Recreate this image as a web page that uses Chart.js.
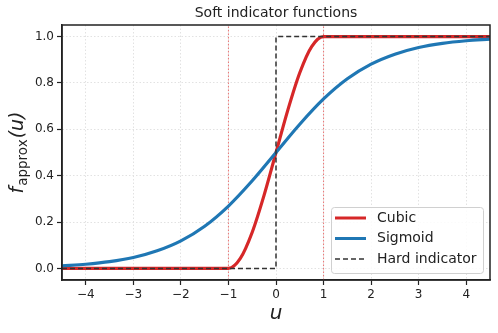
<!DOCTYPE html>
<html lang="en">
<head>
  <meta charset="UTF-8" />
  <title>Soft indicator functions</title>
  <script src="https://cdn.jsdelivr.net/npm/chart.js"></script>
  <style>
    body { margin: 0; padding: 0; background: #fff; }
    canvas { display: block; }
  </style>
</head>
<body>
  <canvas id="softChart" width="498" height="333"></canvas>

  <script>
    // values
    const sigmoidU = [-4.5, -4, -3.5, -3, -2.5, -2, -1.5, -1, -0.5, 0, 0.5, 1, 1.5, 2, 2.5, 3, 3.5, 4, 4.5];
    const sigmoidF = [0.011, 0.018, 0.029, 0.047, 0.076, 0.119, 0.182, 0.269, 0.378, 0.5, 0.622, 0.731, 0.818, 0.881, 0.924, 0.953, 0.971, 0.982, 0.989];

    const cubicU = [-4.5, -1, -0.75, -0.5, -0.25, 0, 0.25, 0.5, 0.75, 1, 4.5];
    const cubicF = [0, 0, 0.043, 0.156, 0.316, 0.5, 0.684, 0.844, 0.957, 1, 1];

    const hardU = [-4.5, 0, 0, 4.5];
    const hardF = [0, 0, 1, 1];

    const markerU = [-1, 1];
    const xTicks = [-4, -3, -2, -1, 0, 1, 2, 3, 4];
    const yTicks = [0, 0.2, 0.4, 0.6, 0.8, 1.0];
    const xRange = [-4.5, 4.5];
    const yRange = [-0.05, 1.05];

    const pts = (xs, ys) => xs.map((x, i) => ({ x: x, y: ys[i] }));
    const minus = v => (v < 0 ? '\u2212' + Math.abs(v) : String(v));

    const markerSets = markerU.map(u => ({
      label: 'marker',
      data: [{ x: u, y: yRange[0] }, { x: u, y: yRange[1] }],
      borderColor: 'rgba(228, 80, 80, 0.8)',
      borderWidth: 1,
      borderDash: [1.5, 2],
      pointRadius: 0,
      order: 5
    }));

    const textPlugin = {
      id: 'textPlugin',
      afterDraw(chart) {
        const ctx = chart.ctx;
        const a = chart.chartArea;
        ctx.save();
        // frame
        ctx.strokeStyle = '#222';
        ctx.lineWidth = 1.5;
        ctx.setLineDash([]);
        ctx.strokeRect(a.left, a.top, a.right - a.left, a.bottom - a.top);

        // title
        ctx.fillStyle = '#222';
        ctx.font = '14px "DejaVu Sans"';
        ctx.textAlign = 'center';
        ctx.textBaseline = 'middle';
        ctx.fillText('Soft indicator functions', (a.left + a.right) / 2, 13);

        // x label
        ctx.font = 'italic 20px "DejaVu Sans"';
        ctx.fillText('u', (a.left + a.right) / 2, 314);

        // y label with subscript
        ctx.translate(17, (a.top + a.bottom) / 2);
        ctx.rotate(-Math.PI / 2);
        const p1 = 'f', p2 = 'approx', p3 = '(u)';
        ctx.font = 'italic 19px "DejaVu Sans"';
        const w1 = ctx.measureText(p1).width;
        const w3 = ctx.measureText(p3).width;
        ctx.font = '13.5px "DejaVu Sans"';
        const w2 = ctx.measureText(p2).width;
        let x0 = -(w1 + w2 + w3 + 2) / 2;
        ctx.textAlign = 'left';
        ctx.textBaseline = 'alphabetic';
        ctx.font = 'italic 19px "DejaVu Sans"';
        ctx.fillText(p1, x0, 6);
        ctx.font = '13.5px "DejaVu Sans"';
        ctx.fillText(p2, x0 + w1 + 1, 10);
        ctx.font = 'italic 19px "DejaVu Sans"';
        ctx.fillText(p3, x0 + w1 + w2 + 2, 6);
        ctx.restore();

        // legend
        ctx.save();
        const lx = 331, ly = 207, lw = 152, lh = 66;
        ctx.fillStyle = 'rgba(255,255,255,0.85)';
        ctx.strokeStyle = '#d0d0d0';
        ctx.lineWidth = 1;
        ctx.beginPath();
        ctx.roundRect(lx + 0.5, ly + 0.5, lw, lh, 3);
        ctx.fill();
        ctx.stroke();
        const items = [
          { text: 'Cubic', color: '#d62728', width: 3, dash: [] },
          { text: 'Sigmoid', color: '#1f77b4', width: 3, dash: [] },
          { text: 'Hard indicator', color: '#333', width: 1.5, dash: [5, 3] }
        ];
        ctx.font = '14px "DejaVu Sans"';
        ctx.textBaseline = 'middle';
        items.forEach((it, i) => {
          const y = 218 + i * 20.5;
          ctx.strokeStyle = it.color;
          ctx.lineWidth = it.width;
          ctx.setLineDash(it.dash);
          ctx.beginPath();
          ctx.moveTo(335, y);
          ctx.lineTo(366, y);
          ctx.stroke();
          ctx.fillStyle = '#222';
          ctx.fillText(it.text, 377, y);
        });
        ctx.restore();
      }
    };

    const gridOpts = {
      color: '#e2e2e2',
      tickColor: '#222',
      tickLength: 5,
      tickWidth: 1.2,
      tickBorderDash: [0, 0]
    };

    new Chart(document.getElementById('softChart'), {
      type: 'line',
      data: {
        datasets: [
          {
            label: 'Hard indicator',
            data: pts(hardU, hardF),
            borderColor: '#333',
            borderWidth: 1.5,
            borderDash: [5, 3],
            pointRadius: 0,
            order: 0
          },
          {
            label: 'Sigmoid',
            data: pts(sigmoidU, sigmoidF),
            borderColor: '#1f77b4',
            borderWidth: 3.2,
            cubicInterpolationMode: 'monotone',
            pointRadius: 0,
            order: 1
          },
          {
            label: 'Cubic',
            data: pts(cubicU, cubicF),
            borderColor: '#d62728',
            borderWidth: 3.2,
            cubicInterpolationMode: 'monotone',
            pointRadius: 0,
            order: 2
          },
          ...markerSets
        ]
      },
      options: {
        responsive: false,
        animation: false,
        layout: { padding: { left: 0, top: 25, right: 8, bottom: 0 } },
        scales: {
          x: {
            type: 'linear',
            min: xRange[0],
            max: xRange[1],
            afterBuildTicks: s => { s.ticks = xTicks.map(v => ({ value: v })); },
            afterFit: s => { s.height = 53; },
            grid: gridOpts,
            border: { display: true, color: '#222', width: 1.5, dash: [1.5, 2] },
            ticks: {
              color: '#222',
              padding: 3,
              font: { family: 'DejaVu Sans', size: 12 },
              callback: v => minus(v)
            }
          },
          y: {
            type: 'linear',
            min: yRange[0],
            max: yRange[1],
            afterBuildTicks: s => { s.ticks = yTicks.map(v => ({ value: v })); },
            afterFit: s => { s.width = 62; },
            grid: gridOpts,
            border: { display: true, color: '#222', width: 1.5, dash: [1.5, 2] },
            ticks: {
              color: '#222',
              padding: 3,
              font: { family: 'DejaVu Sans', size: 12 },
              callback: v => v.toFixed(1)
            }
          }
        },
        plugins: {
          legend: { display: false },
          title: { display: false },
          tooltip: { enabled: false }
        }
      },
      plugins: [textPlugin]
    });
  </script>
</body>
</html>
